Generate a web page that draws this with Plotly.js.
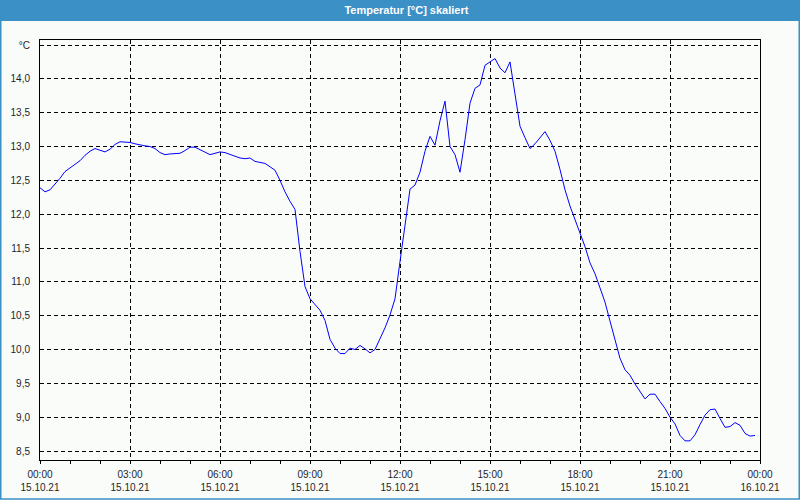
<!DOCTYPE html>
<html>
<head>
<meta charset="utf-8">
<script src="https://cdn.plot.ly/plotly-3.0.1.min.js"></script>
<style>
  html, body { margin: 0; padding: 0; background: #fafcfa; }
  #chart { width: 800px; height: 500px; }
</style>
</head>
<body>
<div id="chart"></div>
<script>
// Chart title and axis texts
const chartTitle = 'Temperatur [°C] skaliert';
const unitLabel = '°C';

// Series: temperature, one reading every 10 minutes starting 15.10.21 00:00
const startTime = '2021-10-15T00:00:00';
const stepMinutes = 10;
const temperature = [
  12.39, 12.33, 12.36, 12.44, 12.53, 12.63, 12.68, 12.73, 12.79, 12.87,
  12.93, 12.97, 12.94, 12.92, 12.96, 13.03, 13.07, 13.07, 13.06, 13.04,
  13.02, 13.01, 13.00, 12.97, 12.91, 12.88, 12.89, 12.90, 12.90, 12.94,
  12.99, 12.99, 12.95, 12.91, 12.88, 12.90, 12.92, 12.91, 12.88, 12.85,
  12.83, 12.82, 12.83, 12.78, 12.76, 12.75, 12.70, 12.65, 12.50, 12.33,
  12.19, 12.07, 11.45, 10.93, 10.75, 10.67, 10.58, 10.43, 10.15, 10.02,
  9.94, 9.94, 10.02, 10.00, 10.06, 10.01, 9.95, 10.00, 10.16, 10.32,
  10.51, 10.75, 11.30, 11.85, 12.37, 12.43, 12.62, 12.93, 13.15, 13.02,
  13.38, 13.67, 13.00, 12.88, 12.62, 13.10, 13.64, 13.86, 13.91, 14.20,
  14.25, 14.30, 14.16, 14.09, 14.25, 13.75, 13.30, 13.13, 12.97, 13.04,
  13.13, 13.22, 13.09, 12.93, 12.66, 12.36, 12.12, 11.92, 11.74, 11.52,
  11.28, 11.12, 10.91, 10.70, 10.42, 10.15, 9.87, 9.70, 9.62, 9.49,
  9.37, 9.27, 9.34, 9.34, 9.23, 9.13, 9.00, 8.90, 8.73, 8.65,
  8.65, 8.74, 8.89, 9.03, 9.11, 9.12, 8.98, 8.85, 8.86, 8.92,
  8.88, 8.76, 8.72, 8.73
];

// X axis ticks (every 3 hours)
const xTickVals = [
  '2021-10-15 00:00', '2021-10-15 03:00', '2021-10-15 06:00', '2021-10-15 09:00',
  '2021-10-15 12:00', '2021-10-15 15:00', '2021-10-15 18:00', '2021-10-15 21:00',
  '2021-10-16 00:00'
];
const xTickTimes = ['00:00', '03:00', '06:00', '09:00', '12:00', '15:00', '18:00', '21:00', '00:00'];
const xTickDates = ['15.10.21', '15.10.21', '15.10.21', '15.10.21', '15.10.21', '15.10.21', '15.10.21', '15.10.21', '16.10.21'];

// Y axis ticks
const yTickVals = [8.5, 9.0, 9.5, 10.0, 10.5, 11.0, 11.5, 12.0, 12.5, 13.0, 13.5, 14.0, 14.5];
const yTickText = ['8,5', '9,0', '9,5', '10,0', '10,5', '11,0', '11,5', '12,0', '12,5', '13,0', '13,5', '14,0', unitLabel];

// ---- build ----
function pad(n) { return (n < 10 ? '0' : '') + n; }
const t0 = new Date(startTime);
const xTimes = temperature.map((_, i) => {
  const d = new Date(t0.getTime() + i * stepMinutes * 60000);
  return d.getFullYear() + '-' + pad(d.getMonth() + 1) + '-' + pad(d.getDate()) + ' ' +
         pad(d.getHours()) + ':' + pad(d.getMinutes());
});
const xTickText = xTickTimes.map((t, i) => t + '<br>' + xTickDates[i]);

const W = 800, H = 500, ML = 40, MR = 40, MT = 40, MB = 40;
const PW = W - ML - MR, PH = H - MT - MB;
const px = p => (p - ML) / PW;          // pixel x -> paper x
const py = p => (H - MB - p) / PH;      // pixel y -> paper y

const fontFam = '"Liberation Sans", Arial, sans-serif';
const blue = '#3b90c6';

const trace = {
  type: 'scatter',
  mode: 'lines',
  x: xTimes,
  y: temperature,
  line: { color: '#0000ff', width: 1 },
  hoverinfo: 'x+y'
};

const layout = {
  width: W, height: H,
  margin: { l: ML, r: MR, t: MT, b: MB, pad: 0 },
  paper_bgcolor: '#fafcfa',
  plot_bgcolor: '#fafcfa',
  showlegend: false,
  font: { family: fontFam, size: 10, color: '#1e1e28' },
  title: {
    text: '<b>' + chartTitle + '</b>',
    font: { family: fontFam, size: 11, color: '#ffffff' },
    xref: 'container', x: 0.508, xanchor: 'center',
    yref: 'container', y: 1 - 10 / H, yanchor: 'middle'
  },
  xaxis: {
    type: 'date',
    range: ['2021-10-15 00:00', '2021-10-16 00:00'],
    tickmode: 'array',
    tickvals: xTickVals,
    ticktext: xTickText,
    ticks: 'outside', ticklen: 3, tickcolor: '#000', tickwidth: 1,
    ticklabelstandoff: 2,
    minor: { dtick: 3600000, ticks: 'outside', ticklen: 3, tickcolor: '#000', showgrid: false },
    showgrid: true, gridcolor: '#000', gridwidth: 1, griddash: '4px,3px',
    showline: true, linecolor: '#000', linewidth: 1, mirror: true,
    zeroline: false,
    tickfont: { family: fontFam, size: 10, color: '#1e1e28' },
    fixedrange: true
  },
  yaxis: {
    range: [8.367, 14.574],
    tickmode: 'array',
    tickvals: yTickVals,
    ticktext: yTickText,
    ticks: '',
    ticklabelstandoff: 7,
    showgrid: true, gridcolor: '#000', gridwidth: 1, griddash: '4px,3px',
    showline: true, linecolor: '#000', linewidth: 1, mirror: true,
    zeroline: false,
    tickfont: { family: fontFam, size: 10, color: '#1e1e28' },
    fixedrange: true
  },
  shapes: [
    { type: 'rect', xref: 'paper', yref: 'paper', layer: 'below',
      x0: px(0), x1: px(W), y0: py(21), y1: py(0),
      fillcolor: blue, line: { width: 0 } },
    { type: 'rect', xref: 'paper', yref: 'paper', layer: 'above',
      x0: px(0.75), x1: px(W - 0.75), y0: py(H - 1), y1: py(0.75),
      fillcolor: 'rgba(0,0,0,0)', line: { color: blue, width: 1.5 } }
  ]
};

Plotly.newPlot('chart', [trace], layout, { staticPlot: true, displayModeBar: false });
</script>
</body>
</html>
